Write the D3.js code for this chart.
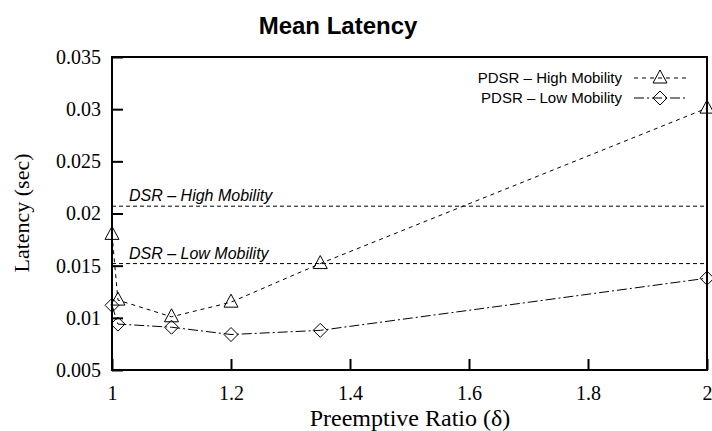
<!DOCTYPE html>
<html>
<head>
<meta charset="utf-8">
<script src="https://cdn.jsdelivr.net/npm/d3@7"></script>
<style>
  body { margin: 0; background: #fff; }
  svg { display: block; }
</style>
</head>
<body>
<div id="chart"></div>
<script>
// preemptive ratio values where PDSR was measured
const ratios = [1, 1.01, 1.1, 1.2, 1.35, 2];
const highMobility = [0.0180, 0.0117, 0.0101, 0.0115, 0.0152, 0.0301];
const lowMobility = [0.0112, 0.0094, 0.0091, 0.0084, 0.0088, 0.0138];
// DSR baselines (flat lines)
const dsrHigh = 0.0207;
const dsrLow = 0.0152;

const xTicks = [1, 1.2, 1.4, 1.6, 1.8, 2];
const xTickLabels = ["1", "1.2", "1.4", "1.6", "1.8", "2"];
const yTicks = [0.005, 0.01, 0.015, 0.02, 0.025, 0.03, 0.035];
const yTickLabels = ["0.005", "0.01", "0.015", "0.02", "0.025", "0.03", "0.035"];

const width = 712;
const height = 431;
const margin = { top: 57, right: 5, bottom: 61, left: 112 };
const serif = "'Liberation Serif', 'Times New Roman', serif";
const sans = "'Liberation Sans', Arial, sans-serif";

const svg = d3.select('#chart')
    .append('svg')
    .attr('width', width)
    .attr('height', height);

const x = d3.scaleLinear()
    .domain([1, 2])
    .range([margin.left, width - margin.right]);
const y = d3.scaleLinear()
    .domain([0.005, 0.035])
    .range([height - margin.bottom, margin.top]);

// axes, ticks point inward
const xAxis = svg.append('g')
    .attr('transform', 'translate(0,' + (height - margin.bottom) + ')')
    .call(d3.axisBottom(x)
        .tickValues(xTicks)
        .tickFormat((d, i) => xTickLabels[i])
        .tickSize(-11)
        .tickPadding(16));
const yAxis = svg.append('g')
    .attr('transform', 'translate(' + margin.left + ',0)')
    .call(d3.axisLeft(y)
        .tickValues(yTicks)
        .tickFormat((d, i) => yTickLabels[i])
        .tickSize(-11)
        .tickPadding(11));

[xAxis, yAxis].forEach(a => {
    a.select('.domain').remove();
    a.selectAll('.tick line').attr('stroke', '#000').attr('stroke-width', 2);
    a.selectAll('.tick text')
        .attr('fill', '#000')
        .attr('font-family', serif)
        .attr('font-size', '20px');
});

// DSR reference lines
const dsr = [
    { value: dsrHigh, label: 'DSR \u2013 High Mobility' },
    { value: dsrLow, label: 'DSR \u2013 Low Mobility' }
];
svg.selectAll('.dsr')
    .data(dsr)
    .enter()
    .append('line')
    .attr('x1', x(1))
    .attr('x2', x(2))
    .attr('y1', d => y(d.value))
    .attr('y2', d => y(d.value))
    .attr('stroke', '#000')
    .attr('stroke-width', 1)
    .attr('stroke-dasharray', '4,3');
svg.selectAll('.dsr-label')
    .data(dsr)
    .enter()
    .append('text')
    .attr('x', x(1) + 17)
    .attr('y', d => y(d.value) - 5)
    .attr('font-family', sans)
    .attr('font-style', 'italic')
    .attr('font-size', '16px')
    .attr('fill', '#000')
    .text(d => d.label);

const series = [
    { name: 'PDSR \u2013 High Mobility', values: highMobility, dash: '4,4', marker: 'triangle' },
    { name: 'PDSR \u2013 Low Mobility', values: lowMobility, dash: '10,3,2,3', marker: 'diamond' }
];

const line = d3.line()
    .x(d => x(d[0]))
    .y(d => y(d[1]));

function markerPath(type) {
    if (type === 'triangle') return 'M0,-8L7,5L-7,5Z';
    return 'M0,-7L7,0L0,7L-7,0Z';
}

series.forEach(s => {
    const pts = ratios.map((r, i) => [r, s.values[i]]);
    svg.append('path')
        .datum(pts)
        .attr('d', line)
        .attr('fill', 'none')
        .attr('stroke', '#000')
        .attr('stroke-width', 1)
        .attr('stroke-dasharray', s.dash);
    svg.selectAll(null)
        .data(pts)
        .enter()
        .append('path')
        .attr('d', markerPath(s.marker))
        .attr('transform', d => 'translate(' + x(d[0]) + ',' + y(d[1]) + ')')
        .attr('fill', 'none')
        .attr('stroke', '#000')
        .attr('stroke-width', 1);
});

// legend
const legend = svg.append('g');
series.forEach((s, i) => {
    const ly = 78 + i * 20;
    legend.append('text')
        .attr('x', 622)
        .attr('y', ly)
        .attr('dy', '0.35em')
        .attr('text-anchor', 'end')
        .attr('font-family', sans)
        .attr('font-size', '15px')
        .attr('fill', '#000')
        .text(s.name);
    legend.append('line')
        .attr('x1', 634)
        .attr('x2', 688)
        .attr('y1', ly)
        .attr('y2', ly)
        .attr('stroke', '#000')
        .attr('stroke-dasharray', s.dash);
    legend.append('path')
        .attr('d', markerPath(s.marker))
        .attr('transform', 'translate(660,' + ly + ')')
        .attr('fill', 'none')
        .attr('stroke', '#000');
});

// frame
svg.append('rect')
    .attr('x', margin.left)
    .attr('y', margin.top)
    .attr('width', width - margin.left - margin.right)
    .attr('height', height - margin.top - margin.bottom)
    .attr('fill', 'none')
    .attr('stroke', '#000')
    .attr('stroke-width', 2);

// titles
svg.append('text')
    .attr('x', 338)
    .attr('y', 34)
    .attr('text-anchor', 'middle')
    .attr('font-family', sans)
    .attr('font-weight', 'bold')
    .attr('font-size', '24px')
    .text('Mean Latency');

svg.append('text')
    .attr('x', 410)
    .attr('y', 426)
    .attr('text-anchor', 'middle')
    .attr('font-family', serif)
    .attr('font-size', '24px')
    .text('Preemptive Ratio (\u03b4)');

svg.append('text')
    .attr('transform', 'translate(29,' + (margin.top + 156) + ') rotate(-90)')
    .attr('text-anchor', 'middle')
    .attr('font-family', serif)
    .attr('font-size', '22px')
    .text('Latency (sec)');
</script>
</body>
</html>
